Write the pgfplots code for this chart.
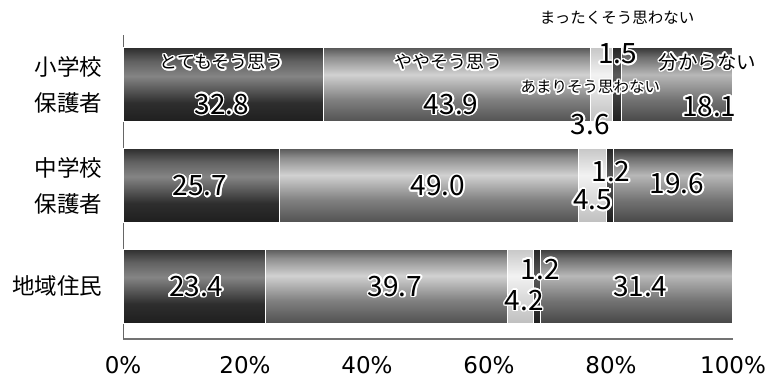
\documentclass[border=0pt]{standalone}
\usepackage{fontspec}
\setmainfont{Noto Sans CJK JP}
\newfontfamily\tickfont{DejaVu Sans}
\usepackage{pgfplots}
\pgfplotsset{compat=1.18}
\usepackage{contour}
\contourlength{1.6pt}
\newcommand\numf{\fontsize{28}{28}\selectfont}
\newcommand\catf{\fontsize{18}{18}\selectfont}
\newcommand\bigf{\fontsize{19.5}{19.5}\selectfont}
\newcommand\smf{\fontsize{15.5}{15.5}\selectfont}
\newcommand\wt[1]{\contour{white}{#1}}
\pgfdeclareverticalshading{sA}{100bp}{color(0bp)=(black!88); color(25bp)=(black!88); color(38bp)=(black!82); color(56bp)=(black!48); color(66bp)=(black!62); color(75bp)=(black!82); color(100bp)=(black!82)}
\pgfdeclareverticalshading{sB}{100bp}{color(0bp)=(black!68); color(25bp)=(black!68); color(40bp)=(black!50); color(57bp)=(black!18); color(69bp)=(black!45); color(75bp)=(black!65); color(100bp)=(black!65)}
\pgfdeclareverticalshading{sC}{100bp}{color(0bp)=(black!25); color(25bp)=(black!25); color(57bp)=(black!5); color(75bp)=(black!22); color(100bp)=(black!22)}
\pgfdeclareverticalshading{sD}{100bp}{color(0bp)=(black!88); color(25bp)=(black!88); color(57bp)=(black!65); color(75bp)=(black!85); color(100bp)=(black!85)}
\pgfdeclareverticalshading{sE}{100bp}{color(0bp)=(black!72); color(25bp)=(black!72); color(40bp)=(black!55); color(57bp)=(black!28); color(69bp)=(black!58); color(75bp)=(black!78); color(100bp)=(black!78)}
\pgfplotsset{
  rowaxis/.style={
    anchor=south west, scale only axis, width=610pt,
    xbar stacked, bar width=74pt,
    xmin=0, xmax=100, ymax=0.5,
    ytick={0},
    yticklabel style={align=center, font=\fontsize{22.5}{36}\selectfont, xshift=-17pt},
    axis y line*=left,
    y axis line style={draw=black!60, line width=0.6pt, -},
    major tick length=0pt,
    clip=false,
  },
  sg/.style={draw=white, line width=1pt, shade, shading=#1},
}
\begin{document}
\begin{tikzpicture}[x=1pt,y=1pt]
\path[use as bounding box] (0,0) rectangle (765,385);
% row 1: 小学校保護者
\begin{axis}[rowaxis, at={(123pt,249.75pt)}, height=100.5pt, ymin=-0.5,
  hide x axis, yticklabels={{小学校\\保護者}}]
\addplot[sg=sA] coordinates {(32.8,0)};
\addplot[sg=sB] coordinates {(43.9,0)};
\addplot[sg=sC] coordinates {(3.6,0)};
\addplot[sg=sD] coordinates {(1.5,0)};
\addplot[sg=sE] coordinates {(18.1,0)};
\coordinate (a1) at (axis cs:16.2,0.22);
\coordinate (a2) at (axis cs:16.2,-0.20);
\coordinate (a3) at (axis cs:53.3,0.22);
\coordinate (a4) at (axis cs:53.8,-0.20);
\coordinate (a5) at (axis cs:81.1,0.30);
\coordinate (a6) at (axis cs:95.8,0.22);
\coordinate (a7) at (axis cs:76.6,-0.03);
\coordinate (a8) at (axis cs:96.1,-0.22);
\coordinate (a9) at (axis cs:76.6,-0.40);
\coordinate (a10) at (axis cs:81.0,0.67);
\end{axis}
% row 2: 中学校保護者
\begin{axis}[rowaxis, at={(123pt,149.25pt)}, height=100.5pt, ymin=-0.5,
  hide x axis, yticklabels={{中学校\\保護者}}]
\addplot[sg=sA] coordinates {(25.7,0)};
\addplot[sg=sB] coordinates {(49.0,0)};
\addplot[sg=sC] coordinates {(4.5,0)};
\addplot[sg=sD] coordinates {(1.2,0)};
\addplot[sg=sE] coordinates {(19.6,0)};
\coordinate (b1) at (axis cs:12.6,-0.01);
\coordinate (b2) at (axis cs:51.6,-0.01);
\coordinate (b3) at (axis cs:80.0,0.13);
\coordinate (b4) at (axis cs:77.0,-0.15);
\coordinate (b5) at (axis cs:90.8,0.01);
\end{axis}
% row 3: 地域住民
\begin{axis}[rowaxis, at={(123pt,46pt)}, height=103.25pt, ymin=-0.527,
  yticklabels={地域住民},
  axis x line*=bottom,
  x axis line style={draw=black!55, line width=1.5pt, -},
  xtick={0,20,40,60,80,100},
  xticklabels={0\%,20\%,40\%,60\%,80\%,100\%},
  xticklabel style={font=\tickfont\fontsize{23}{23}\selectfont, yshift=-14pt}]
\addplot[sg=sA] coordinates {(23.4,0)};
\addplot[sg=sB] coordinates {(39.7,0)};
\addplot[sg=sC] coordinates {(4.2,0)};
\addplot[sg=sD] coordinates {(1.2,0)};
\addplot[sg=sE] coordinates {(31.4,0)};
\coordinate (c1) at (axis cs:12.0,-0.01);
\coordinate (c2) at (axis cs:44.6,-0.01);
\coordinate (c3) at (axis cs:68.4,0.16);
\coordinate (c4) at (axis cs:65.8,-0.15);
\coordinate (c5) at (axis cs:84.8,-0.01);
\end{axis}
% labels
\node[font=\catf] at (a1) {\wt{とてもそう思う}};
\node[font=\numf] at (a2) {\wt{32.8}};
\node[font=\catf] at (a3) {\wt{ややそう思う}};
\node[font=\numf] at (a4) {\wt{43.9}};
\node[font=\numf] at (a5) {\wt{1.5}};
\node[font=\bigf] at (a6) {\wt{分からない}};
\node[font=\smf] at (a7) {\wt{あまりそう思わない}};
\node[font=\numf] at (a8) {\wt{18.1}};
\node[font=\numf] at (a9) {\wt{3.6}};
\node[font=\smf] at (a10) {まったくそう思わない};
\node[font=\numf] at (b1) {\wt{25.7}};
\node[font=\numf] at (b2) {\wt{49.0}};
\node[font=\numf] at (b3) {\wt{1.2}};
\node[font=\numf] at (b4) {\wt{4.5}};
\node[font=\numf] at (b5) {\wt{19.6}};
\node[font=\numf] at (c1) {\wt{23.4}};
\node[font=\numf] at (c2) {\wt{39.7}};
\node[font=\numf] at (c3) {\wt{1.2}};
\node[font=\numf] at (c4) {\wt{4.2}};
\node[font=\numf] at (c5) {\wt{31.4}};
\end{tikzpicture}
\end{document}
